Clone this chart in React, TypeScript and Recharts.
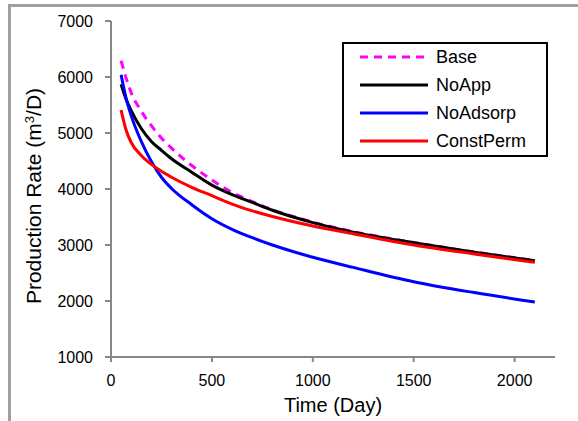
import React from "react";
import {
  LineChart,
  Line,
  XAxis,
  YAxis,
  Legend,
} from "recharts";

const days = [50, 75, 100, 150, 200, 250, 300, 400, 500, 600, 700, 800, 1000, 1200, 1500, 1800, 2100];

const base = [6290, 5980, 5720, 5390, 5130, 4910, 4730, 4420, 4160, 3940, 3775, 3630, 3410, 3240, 3045, 2875, 2725];
const noApp = [5870, 5600, 5400, 5080, 4850, 4690, 4540, 4300, 4070, 3900, 3760, 3620, 3400, 3230, 3040, 2870, 2720];
const noAdsorp = [6040, 5620, 5310, 4850, 4490, 4210, 4010, 3720, 3470, 3280, 3130, 3000, 2780, 2600, 2345, 2150, 1980];
const constPerm = [5410, 5050, 4830, 4600, 4440, 4315, 4210, 4030, 3880, 3730, 3610, 3510, 3340, 3200, 3000, 2840, 2690];

const xTicks = [0, 500, 1000, 1500, 2000];
const yTicks = [1000, 2000, 3000, 4000, 5000, 6000, 7000];

const series = [
  { key: "Base", values: base, color: "#FF00FF", dash: "8 6" },
  { key: "NoApp", values: noApp, color: "#000000", dash: undefined },
  { key: "NoAdsorp", values: noAdsorp, color: "#0000FF", dash: undefined },
  { key: "ConstPerm", values: constPerm, color: "#FF0000", dash: undefined },
];

const data = days.map((d, i) => {
  const row: Record<string, number> = { day: d };
  series.forEach((s) => {
    row[s.key] = s.values[i];
  });
  return row;
});

const font = "'Liberation Sans', Arial, sans-serif";
const axisColor = "#868686";

function YLabel() {
  return (
    <text
      x={0}
      y={0}
      transform="translate(41, 196) rotate(-90)"
      textAnchor="middle"
      fontSize={21}
      fontFamily={font}
      fill="#000"
    >
      Production Rate (m
      <tspan dy={-7} fontSize={13}>3</tspan>
      <tspan dy={7}>/D)</tspan>
    </text>
  );
}

function LegendBox() {
  return (
    <div
      style={{
        position: "relative",
        width: 206,
        height: 115,
        border: "2px solid #000",
        boxSizing: "border-box",
        background: "#fff",
        fontFamily: font,
        fontSize: 18,
      }}
    >
      {series.map((s, i) => (
        <div
          key={s.key}
          style={{
            position: "absolute",
            left: 0,
            top: 12.5 + i * 28.3 - 14,
            height: 28,
            display: "flex",
            alignItems: "center",
          }}
        >
          <svg width={92} height={10}>
            <line
              x1={16}
              y1={5}
              x2={84}
              y2={5}
              stroke={s.color}
              strokeWidth={3}
              strokeDasharray={s.dash}
            />
          </svg>
          <span style={{ color: "#000", lineHeight: "28px" }}>{s.key}</span>
        </div>
      ))}
    </div>
  );
}

export default function App() {
  return (
    <div style={{ position: "absolute", left: 0, top: 0, width: 578, height: 421, background: "#fff" }}>
      <div
        style={{
          position: "absolute",
          left: 8,
          top: 4,
          width: 570,
          height: 417,
          borderTop: "3px solid #a0a0a0",
          borderLeft: "3px solid #a0a0a0",
        }}
      />
      <LineChart
        width={578}
        height={421}
        data={data}
        margin={{ top: 21, right: 23, left: 0, bottom: 0 }}
        style={{ position: "absolute", left: 0, top: 0 }}
      >
        <XAxis
          dataKey="day"
          type="number"
          domain={[0, 2200]}
          ticks={xTicks}
          height={64}
          tickSize={5}
          tickMargin={13}
          stroke={axisColor}
          strokeWidth={2}
          tick={{ fill: "#000", fontSize: 16, fontFamily: font }}
          label={{
            value: "Time (Day)",
            position: "insideBottom",
            offset: 9,
            fill: "#000",
            fontSize: 20,
            fontFamily: font,
          }}
        />
        <YAxis
          type="number"
          domain={[1000, 7000]}
          ticks={yTicks}
          width={111}
          tickSize={6}
          tickMargin={12}
          stroke={axisColor}
          strokeWidth={2}
          tick={{ fill: "#000", fontSize: 16, fontFamily: font }}
          label={<YLabel />}
        />
        <Legend
          layout="horizontal"
          verticalAlign="middle"
          content={() => <LegendBox />}
          wrapperStyle={{ position: "absolute", left: 342, top: 42, width: 206, height: 115 }}
        />
        {series.map((s) => (
          <Line
            key={s.key}
            dataKey={s.key}
            type="monotone"
            stroke={s.color}
            strokeWidth={3}
            strokeDasharray={s.dash}
            dot={false}
            activeDot={false}
            isAnimationActive={false}
          />
        ))}
      </LineChart>
    </div>
  );
}
